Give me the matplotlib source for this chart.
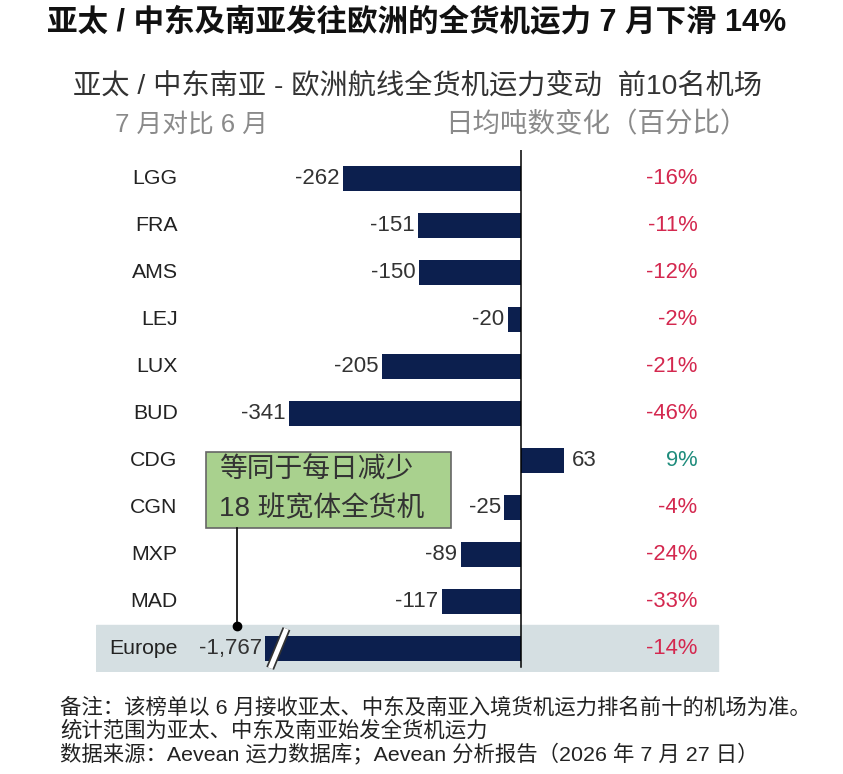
import matplotlib.pyplot as plt
import matplotlib.patheffects as pe
from matplotlib.patches import Rectangle
import numpy as np

plt.rcParams['font.family'] = ['Liberation Sans', 'Noto Sans CJK SC', 'DejaVu Sans']

# data
airports = ['LGG', 'FRA', 'AMS', 'LEJ', 'LUX', 'BUD', 'CDG', 'CGN', 'MXP', 'MAD', 'Europe']
change_tonnes = [-262, -151, -150, -20, -205, -341, 63, -25, -89, -117, -1767]
change_pct = [-16, -11, -12, -2, -21, -46, 9, -4, -24, -33, -14]
axis_break = -376   # the Europe bar is cut here

navy = '#0c1f4e'
red = '#d4284f'
green = '#1e8c7c'

fig = plt.figure(figsize=(8.43, 7.74), dpi=100)
ax = fig.add_axes([96 / 843, 1 - 672 / 774, 649 / 843, 522 / 774])
ax.set_facecolor('#fcfcfc')

y = np.arange(len(airports))
shown = [max(v, axis_break) for v in change_tonnes]

ax.axhspan(9.5, 10.5, xmin=0, xmax=(718 - 96) / 649, color='#d5dfe2', zorder=0)
ax.barh(y, shown, height=0.53, color=navy, zorder=2)
ax.axvline(0, color='black', lw=1.1, ymax=1, ymin=0.01, zorder=3)

for yi, v, s, p in zip(y, change_tonnes, shown, change_pct):
    if v < 0:
        ax.text(s - 5, yi, f'{v:,}', ha='right', va='center', fontsize=16, color='#333333')
    else:
        ax.text(s + 12, yi, f'{v:,}', ha='left', va='center', fontsize=16, color='#333333')
    ax.text(259, yi, f'{p}%', ha='right', va='center', fontsize=15.8,
            color=green if p > 0 else red)
    ax.text(-505, yi, airports[yi], ha='right', va='center', fontsize=15.3, color='#222222')

# axis break marker on the Europe bar
bx = axis_break + 19
ax.plot([bx - 12, bx + 12], [10.42, 9.58], color='white', lw=3.5, zorder=4,
        solid_capstyle='butt',
        path_effects=[pe.Stroke(linewidth=6, foreground='#333333'), pe.Normal()])

ax.set_xlim(-625, 329)
ax.set_ylim(10.5, -0.6)
ax.axis('off')

# callout box
ax.add_patch(Rectangle((-463, 5.83), 360, 1.6, facecolor='#a9d18e', edgecolor='#666666',
                       lw=1.2, zorder=5))
ax.text(-444, 6.22, '等同于每日减少', fontsize=20, color='#333333', va='center', zorder=6)
ax.text(-444, 7.03, '18 班宽体全货机', fontsize=20, color='#333333', va='center', zorder=6)
ax.plot([-418, -418], [7.43, 9.52], color='black', lw=1.2, zorder=5)
ax.plot([-418], [9.52], 'o', color='black', ms=6, zorder=5)

# titles
fig.text(417 / 843, 1 - 23 / 774, '亚太 / 中东及南亚发往欧洲的全货机运力 7 月下滑 14%',
         ha='center', va='center', fontsize=22, fontweight='bold', color='#111111')
fig.text(418 / 843, 1 - 86 / 774, '亚太 / 中东南亚 - 欧洲航线全货机运力变动  前10名机场',
         ha='center', va='center', fontsize=20.3, color='#333333')
fig.text(115 / 843, 1 - 125 / 774, '7 月对比 6 月', ha='left', va='center',
         fontsize=18.5, color='#8a8a8a')
fig.text(445 / 843, 1 - 125 / 774, '日均吨数变化（百分比）', ha='left', va='center',
         fontsize=19.8, color='#8a8a8a')

notes = ['备注：该榜单以 6 月接收亚太、中东及南亚入境货机运力排名前十的机场为准。',
         '统计范围为亚太、中东及南亚始发全货机运力',
         '数据来源：Aevean 运力数据库；Aevean 分析报告（2026 年 7 月 27 日）']
for i, n in enumerate(notes):
    fig.text(60 / 843, 1 - (707 + 23 * i) / 774, n, ha='left', va='center',
             fontsize=15.4, color='#222222')

fig.savefig('out.png', dpi=100, facecolor='white')
